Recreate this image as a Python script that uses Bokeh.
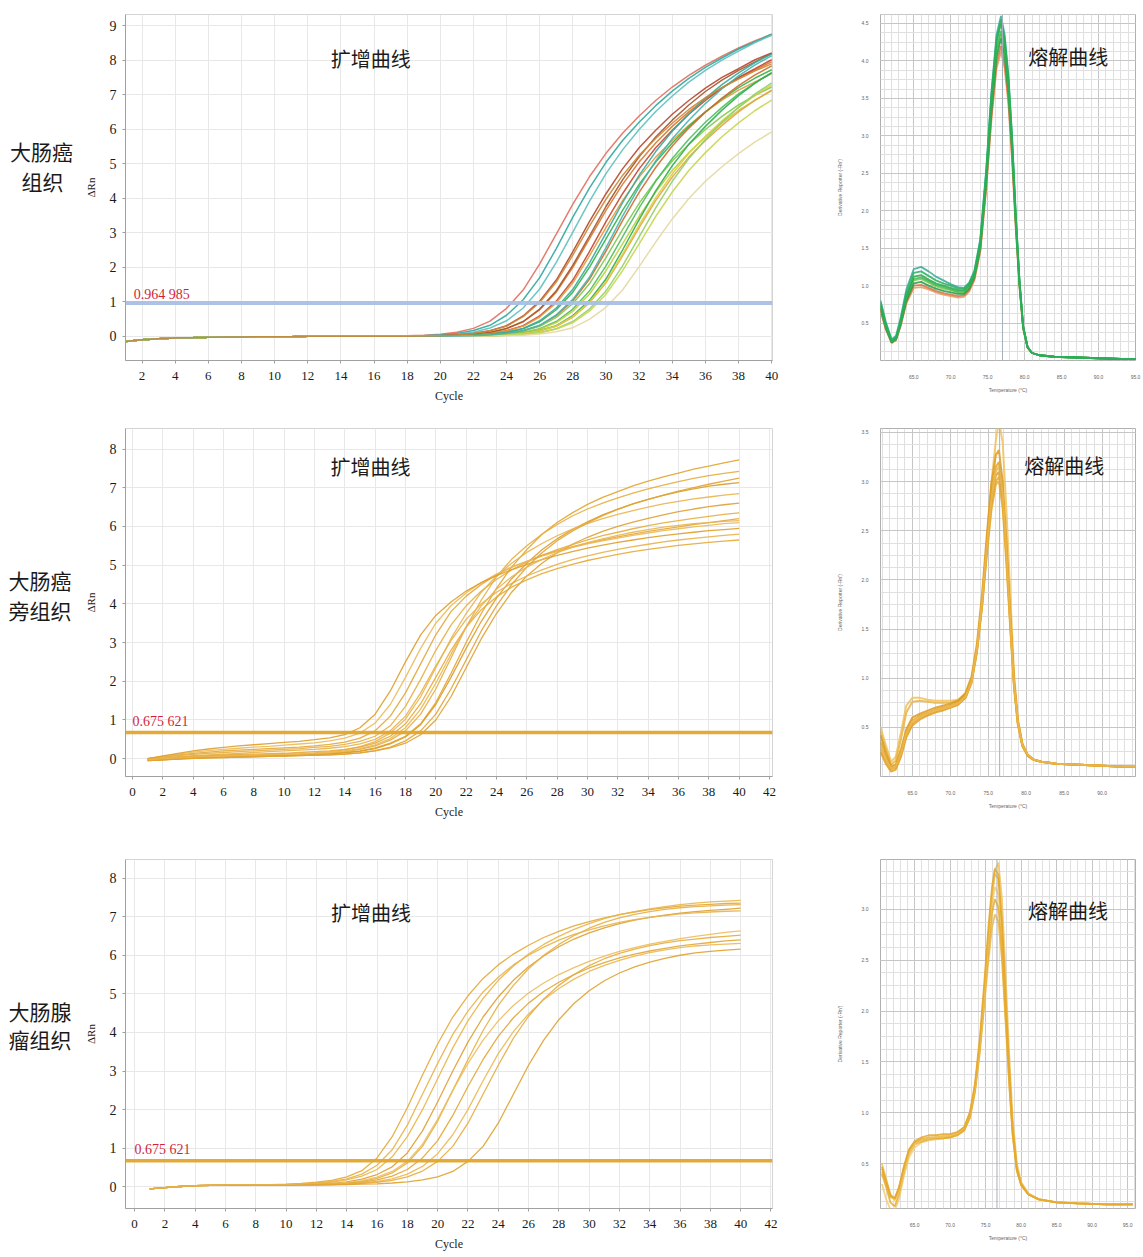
import numpy as np
from bokeh.plotting import figure
from bokeh.layouts import column, row
from bokeh.models import Range1d, FixedTicker, Span, Label, NumeralTickFormatter
from bokeh.embed import file_html
from bokeh.resources import INLINE

SERIF = "Liberation Serif"
CJK = "Noto Sans CJK SC"

# ------------------------------------------------------------------ data
cycles = list(range(1, 41))
amp1_x_ticks = [2, 4, 6, 8, 10, 12, 14, 16, 18, 20, 22, 24, 26, 28, 30, 32, 34, 36, 38, 40]
amp1_y_ticks = [0, 1, 2, 3, 4, 5, 6, 7, 8, 9]
amp23_x_ticks = [0, 2, 4, 6, 8, 10, 12, 14, 16, 18, 20, 22, 24, 26, 28, 30, 32, 34, 36, 38, 40, 42]
amp23_y_ticks = [0, 1, 2, 3, 4, 5, 6, 7, 8]

thresholds = [0.964985, 0.675621, 0.675621]
threshold_texts = ["0.964 985", "0.675 621", "0.675 621"]
row_labels = [["大肠癌", "组织"], ["大肠癌", "旁组织"], ["大肠腺", "瘤组织"]]
amp_title = "扩增曲线"
melt_title = "熔解曲线"

# row 1 amplification: shared baseline (cycles 1-17) + each curve (cycles 18-40)
amp1_baseline = [-0.15, -0.1, -0.07, -0.05, -0.04, -0.03, -0.02, -0.02, -0.01, -0.01, -0.01, 0, 0, 0, 0, 0, 0]
amp1_rise = [
    [0.02, 0.03, 0.06, 0.12, 0.23, 0.44, 0.81, 1.34, 2.1, 2.96, 3.83, 4.62, 5.3, 5.88, 6.38, 6.83, 7.22, 7.56, 7.85, 8.11, 8.35, 8.56, 8.75],
    [0.01, 0.02, 0.04, 0.08, 0.17, 0.32, 0.61, 1.06, 1.7, 2.54, 3.45, 4.29, 5.04, 5.67, 6.2, 6.68, 7.1, 7.47, 7.79, 8.06, 8.32, 8.53, 8.75],
    [0.0, 0.02, 0.03, 0.06, 0.12, 0.24, 0.45, 0.82, 1.37, 2.14, 3.02, 3.91, 4.71, 5.4, 5.99, 6.51, 6.96, 7.36, 7.7, 8.0, 8.26, 8.51, 8.72],
    [0.0, 0.01, 0.02, 0.04, 0.08, 0.16, 0.31, 0.59, 1.02, 1.63, 2.45, 3.32, 4.13, 4.85, 5.46, 5.97, 6.43, 6.83, 7.19, 7.5, 7.75, 8.01, 8.21],
    [0, 0, 0.02, 0.03, 0.06, 0.11, 0.22, 0.42, 0.77, 1.28, 2.0, 2.82, 3.65, 4.4, 5.05, 5.6, 6.08, 6.5, 6.88, 7.2, 7.48, 7.72, 7.95],
    [0, 0, 0.02, 0.03, 0.06, 0.11, 0.23, 0.43, 0.79, 1.32, 2.06, 2.9, 3.76, 4.53, 5.2, 5.77, 6.26, 6.7, 7.09, 7.42, 7.7, 7.95, 8.19],
    [0, 0, 0.01, 0.02, 0.04, 0.08, 0.16, 0.31, 0.59, 1.02, 1.63, 2.45, 3.32, 4.13, 4.85, 5.46, 5.97, 6.43, 6.83, 7.19, 7.5, 7.75, 8.01],
    [0, 0, 0.01, 0.02, 0.04, 0.08, 0.16, 0.29, 0.56, 0.97, 1.55, 2.33, 3.15, 3.93, 4.61, 5.19, 5.67, 6.11, 6.5, 6.84, 7.13, 7.37, 7.61],
    [0, 0, 0, 0.02, 0.03, 0.06, 0.11, 0.22, 0.42, 0.77, 1.28, 2.0, 2.82, 3.65, 4.4, 5.05, 5.6, 6.08, 6.5, 6.88, 7.2, 7.48, 7.72],
    [0, 0, 0, 0.02, 0.03, 0.06, 0.12, 0.23, 0.45, 0.82, 1.36, 2.12, 2.99, 3.87, 4.66, 5.35, 5.94, 6.44, 6.89, 7.29, 7.63, 7.93, 8.18],
    [0, 0, 0, 0.01, 0.02, 0.04, 0.08, 0.16, 0.31, 0.6, 1.03, 1.65, 2.47, 3.35, 4.17, 4.89, 5.51, 6.03, 6.49, 6.9, 7.26, 7.57, 7.83],
    [0, 0, 0, 0.01, 0.02, 0.04, 0.08, 0.15, 0.29, 0.55, 0.95, 1.52, 2.28, 3.09, 3.85, 4.51, 5.08, 5.56, 5.99, 6.37, 6.7, 6.98, 7.22],
    [0, 0, 0, 0, 0.02, 0.03, 0.06, 0.11, 0.22, 0.43, 0.79, 1.31, 2.04, 2.88, 3.72, 4.49, 5.15, 5.71, 6.2, 6.63, 7.02, 7.34, 7.63],
    [0, 0, 0, 0, 0.01, 0.03, 0.06, 0.1, 0.21, 0.4, 0.73, 1.22, 1.9, 2.68, 3.47, 4.18, 4.8, 5.32, 5.78, 6.18, 6.54, 6.84, 7.11],
    [0, 0, 0, 0, 0.01, 0.02, 0.04, 0.08, 0.17, 0.31, 0.6, 1.04, 1.66, 2.5, 3.38, 4.21, 4.94, 5.56, 6.08, 6.55, 6.97, 7.33, 7.64],
    [0, 0, 0, 0, 0.01, 0.02, 0.04, 0.08, 0.16, 0.29, 0.56, 0.97, 1.55, 2.33, 3.15, 3.93, 4.61, 5.19, 5.67, 6.11, 6.5, 6.84, 7.13],
    [0, 0, 0, 0, 0.01, 0.02, 0.04, 0.08, 0.16, 0.3, 0.57, 0.99, 1.58, 2.38, 3.22, 4.01, 4.7, 5.3, 5.79, 6.24, 6.63, 6.98, 7.28],
    [0, 0, 0, 0, 0, 0.02, 0.03, 0.06, 0.11, 0.22, 0.43, 0.79, 1.31, 2.04, 2.88, 3.72, 4.49, 5.15, 5.71, 6.2, 6.63, 7.02, 7.34],
    [0, 0, 0, 0, 0, 0.01, 0.03, 0.06, 0.1, 0.21, 0.4, 0.73, 1.22, 1.9, 2.68, 3.47, 4.18, 4.8, 5.32, 5.78, 6.18, 6.54, 6.84],
    [0, 0, 0, 0, 0, 0.01, 0.02, 0.03, 0.07, 0.13, 0.25, 0.49, 0.84, 1.34, 2.02, 2.73, 3.4, 3.99, 4.49, 4.91, 5.29, 5.63, 5.92],
    [0, 0, 0, 0.01, 0.02, 0.04, 0.09, 0.17, 0.32, 0.62, 1.07, 1.71, 2.57, 3.48, 4.33, 5.08, 5.72, 6.26, 6.74, 7.17, 7.54, 7.86, 8.13],
    [0, 0.01, 0.02, 0.04, 0.08, 0.16, 0.29, 0.57, 0.98, 1.57, 2.35, 3.19, 3.97, 4.66, 5.24, 5.73, 6.17, 6.57, 6.91, 7.2, 7.45, 7.69, 7.89],
]
amp1_colors = ["#e0705f", "#2ea89e", "#5cc0bd", "#b6472b", "#d9782f", "#a4532c", "#c4452f", "#e39a3b",
               "#35b24a", "#3aa89c", "#cf6a2a", "#7ec850", "#4cbc5a", "#b7d23d", "#2fae4e", "#e8a040",
               "#d9cf3e", "#8fd06a", "#c7d64c", "#e6d7a0", "#45b5ad", "#c98a36"]

amp2_curves = [
    [-0.05, -0.03, 0.0, 0.02, 0.04, 0.05, 0.06, 0.07, 0.08, 0.09, 0.1, 0.11, 0.13, 0.16, 0.2, 0.28, 0.4, 0.58, 0.9, 1.45, 2.2, 3.0, 3.75, 4.4, 4.95, 5.4, 5.8, 6.1, 6.35, 6.57, 6.75, 6.9, 7.05, 7.17, 7.28, 7.38, 7.48, 7.56, 7.64, 7.72],
    [-0.04, -0.02, 0.0, 0.02, 0.04, 0.05, 0.06, 0.07, 0.08, 0.09, 0.1, 0.12, 0.14, 0.18, 0.24, 0.33, 0.48, 0.72, 1.15, 1.8, 2.6, 3.4, 4.1, 4.7, 5.15, 5.5, 5.8, 6.05, 6.27, 6.45, 6.6, 6.74, 6.86, 6.97, 7.07, 7.16, 7.24, 7.31, 7.37, 7.42],
    [-0.04, -0.02, 0.0, 0.02, 0.03, 0.04, 0.05, 0.06, 0.07, 0.08, 0.09, 0.1, 0.12, 0.15, 0.19, 0.26, 0.38, 0.56, 0.88, 1.4, 2.1, 2.85, 3.55, 4.15, 4.65, 5.05, 5.4, 5.68, 5.92, 6.12, 6.3, 6.45, 6.58, 6.7, 6.8, 6.89, 6.97, 7.04, 7.09, 7.13],
    [-0.03, 0.0, 0.03, 0.05, 0.07, 0.08, 0.09, 0.1, 0.11, 0.12, 0.13, 0.15, 0.18, 0.23, 0.31, 0.44, 0.66, 1.02, 1.6, 2.35, 3.1, 3.75, 4.3, 4.72, 5.05, 5.33, 5.56, 5.76, 5.93, 6.07, 6.2, 6.31, 6.41, 6.5, 6.58, 6.65, 6.71, 6.76, 6.81, 6.85],
    [-0.05, -0.03, -0.01, 0.01, 0.02, 0.03, 0.04, 0.05, 0.06, 0.07, 0.08, 0.09, 0.1, 0.12, 0.15, 0.2, 0.28, 0.4, 0.62, 1.0, 1.6, 2.35, 3.1, 3.75, 4.3, 4.72, 5.05, 5.32, 5.54, 5.72, 5.87, 6.0, 6.11, 6.21, 6.3, 6.38, 6.45, 6.51, 6.56, 6.6],
    [0.0, 0.04, 0.08, 0.11, 0.14, 0.16, 0.18, 0.2, 0.22, 0.24, 0.26, 0.29, 0.32, 0.37, 0.45, 0.58, 0.85, 1.35, 2.05, 2.8, 3.45, 3.95, 4.33, 4.63, 4.88, 5.08, 5.25, 5.4, 5.53, 5.65, 5.76, 5.85, 5.94, 6.02, 6.09, 6.15, 6.21, 6.26, 6.31, 6.35],
    [0.0, 0.05, 0.1, 0.14, 0.17, 0.2, 0.22, 0.24, 0.26, 0.28, 0.3, 0.33, 0.37, 0.43, 0.53, 0.72, 1.1, 1.7, 2.45, 3.2, 3.8, 4.2, 4.5, 4.75, 4.95, 5.1, 5.25, 5.37, 5.48, 5.57, 5.65, 5.73, 5.8, 5.87, 5.93, 5.99, 6.05, 6.1, 6.15, 6.2],
    [0.0, 0.06, 0.12, 0.17, 0.21, 0.24, 0.27, 0.3, 0.32, 0.35, 0.38, 0.41, 0.46, 0.53, 0.66, 0.92, 1.4, 2.1, 2.85, 3.5, 3.95, 4.28, 4.55, 4.77, 4.95, 5.1, 5.23, 5.35, 5.46, 5.55, 5.63, 5.7, 5.77, 5.83, 5.89, 5.94, 5.99, 6.03, 6.07, 6.1],
    [0.0, 0.07, 0.14, 0.2, 0.25, 0.29, 0.33, 0.36, 0.39, 0.42, 0.45, 0.49, 0.54, 0.62, 0.8, 1.15, 1.75, 2.5, 3.2, 3.7, 4.05, 4.33, 4.55, 4.73, 4.88, 5.02, 5.14, 5.25, 5.35, 5.44, 5.52, 5.59, 5.65, 5.71, 5.76, 5.81, 5.85, 5.89, 5.92, 5.95],
    [-0.02, 0.02, 0.05, 0.08, 0.1, 0.12, 0.14, 0.16, 0.18, 0.2, 0.22, 0.24, 0.27, 0.31, 0.38, 0.5, 0.72, 1.1, 1.7, 2.4, 3.05, 3.6, 4.0, 4.3, 4.53, 4.72, 4.88, 5.02, 5.14, 5.24, 5.33, 5.41, 5.48, 5.54, 5.6, 5.65, 5.69, 5.73, 5.77, 5.8],
    [-0.02, 0.01, 0.04, 0.06, 0.08, 0.1, 0.11, 0.12, 0.13, 0.14, 0.16, 0.18, 0.2, 0.24, 0.3, 0.4, 0.58, 0.9, 1.42, 2.1, 2.8, 3.4, 3.85, 4.18, 4.43, 4.62, 4.78, 4.91, 5.02, 5.12, 5.2, 5.28, 5.35, 5.41, 5.46, 5.51, 5.55, 5.59, 5.62, 5.65],
    [-0.05, -0.03, -0.01, 0.01, 0.02, 0.03, 0.04, 0.05, 0.06, 0.07, 0.08, 0.09, 0.1, 0.12, 0.15, 0.21, 0.3, 0.46, 0.72, 1.15, 1.8, 2.55, 3.3, 3.95, 4.5, 4.95, 5.32, 5.63, 5.88, 6.09, 6.28, 6.44, 6.58, 6.7, 6.81, 6.91, 7.0, 7.09, 7.17, 7.25],
    [-0.03, 0.0, 0.02, 0.04, 0.06, 0.07, 0.08, 0.09, 0.1, 0.11, 0.12, 0.14, 0.16, 0.2, 0.26, 0.36, 0.52, 0.8, 1.28, 1.95, 2.7, 3.4, 3.95, 4.38, 4.7, 4.95, 5.15, 5.32, 5.46, 5.58, 5.68, 5.77, 5.85, 5.92, 5.98, 6.03, 6.07, 6.1, 6.13, 6.15],
]
amp2_colors = ["#e2a42e", "#e6ad3c", "#dc9c28", "#e9b44c", "#e0a030", "#e7ae40", "#e3a636",
               "#ebba58", "#de9f2c", "#e8b148", "#e5aa3a", "#e1a332", "#eab552"]

amp3_curves = [
    [-0.05, -0.02, 0.01, 0.03, 0.04, 0.05, 0.05, 0.05, 0.06, 0.07, 0.09, 0.12, 0.17, 0.26, 0.42, 0.75, 1.3, 2.05, 2.9, 3.7, 4.4, 4.95, 5.4, 5.75, 6.03, 6.26, 6.46, 6.62, 6.76, 6.87, 6.97, 7.05, 7.12, 7.18, 7.23, 7.27, 7.3, 7.32, 7.34, 7.35],
    [-0.05, -0.02, 0.01, 0.03, 0.04, 0.05, 0.05, 0.05, 0.05, 0.06, 0.07, 0.09, 0.12, 0.18, 0.28, 0.45, 0.78, 1.3, 2.0, 2.8, 3.6, 4.3, 4.88, 5.35, 5.72, 6.03, 6.28, 6.49, 6.67, 6.82, 6.95, 7.05, 7.13, 7.2, 7.26, 7.31, 7.35, 7.38, 7.4, 7.42],
    [-0.05, -0.02, 0.01, 0.03, 0.04, 0.04, 0.05, 0.05, 0.05, 0.05, 0.06, 0.07, 0.09, 0.13, 0.2, 0.32, 0.52, 0.88, 1.45, 2.2, 3.0, 3.75, 4.4, 4.92, 5.35, 5.7, 5.98, 6.22, 6.42, 6.58, 6.71, 6.82, 6.91, 6.98, 7.04, 7.09, 7.13, 7.16, 7.19, 7.22],
    [-0.05, -0.02, 0.01, 0.03, 0.04, 0.04, 0.04, 0.05, 0.05, 0.05, 0.05, 0.06, 0.07, 0.1, 0.14, 0.22, 0.36, 0.62, 1.05, 1.7, 2.5, 3.3, 4.05, 4.7, 5.22, 5.65, 6.0, 6.28, 6.51, 6.7, 6.85, 6.97, 7.06, 7.13, 7.19, 7.23, 7.26, 7.28, 7.3, 7.31],
    [-0.05, -0.02, 0.01, 0.03, 0.04, 0.04, 0.05, 0.05, 0.05, 0.05, 0.06, 0.07, 0.08, 0.11, 0.16, 0.25, 0.4, 0.66, 1.1, 1.75, 2.5, 3.2, 3.8, 4.3, 4.7, 5.02, 5.28, 5.5, 5.68, 5.84, 5.98, 6.1, 6.2, 6.29, 6.36, 6.43, 6.49, 6.54, 6.59, 6.63],
    [-0.05, -0.02, 0.01, 0.03, 0.04, 0.04, 0.04, 0.05, 0.05, 0.05, 0.05, 0.06, 0.07, 0.09, 0.12, 0.18, 0.28, 0.45, 0.75, 1.2, 1.85, 2.6, 3.3, 3.9, 4.38, 4.76, 5.06, 5.3, 5.5, 5.67, 5.81, 5.93, 6.03, 6.11, 6.18, 6.24, 6.29, 6.33, 6.37, 6.4],
    [-0.05, -0.02, 0.01, 0.03, 0.04, 0.04, 0.04, 0.04, 0.05, 0.05, 0.05, 0.05, 0.06, 0.08, 0.1, 0.14, 0.21, 0.33, 0.53, 0.86, 1.35, 2.0, 2.75, 3.45, 4.02, 4.48, 4.85, 5.14, 5.38, 5.58, 5.74, 5.87, 5.98, 6.07, 6.14, 6.2, 6.24, 6.27, 6.29, 6.31],
    [-0.05, -0.02, 0.01, 0.03, 0.04, 0.04, 0.04, 0.04, 0.04, 0.05, 0.05, 0.05, 0.06, 0.07, 0.09, 0.12, 0.17, 0.26, 0.41, 0.66, 1.05, 1.65, 2.4, 3.15, 3.85, 4.42, 4.87, 5.22, 5.5, 5.73, 5.91, 6.05, 6.16, 6.25, 6.32, 6.38, 6.42, 6.46, 6.49, 6.52],
    [-0.05, -0.02, 0.01, 0.03, 0.04, 0.04, 0.04, 0.04, 0.04, 0.04, 0.05, 0.05, 0.05, 0.06, 0.07, 0.08, 0.1, 0.13, 0.18, 0.26, 0.4, 0.66, 1.05, 1.65, 2.4, 3.15, 3.8, 4.33, 4.75, 5.08, 5.34, 5.54, 5.7, 5.82, 5.92, 6.0, 6.06, 6.1, 6.13, 6.16],
    [-0.05, -0.02, 0.01, 0.03, 0.04, 0.05, 0.05, 0.05, 0.05, 0.06, 0.08, 0.1, 0.14, 0.21, 0.33, 0.56, 0.96, 1.6, 2.4, 3.2, 3.95, 4.55, 5.05, 5.43, 5.75, 6.0, 6.21, 6.39, 6.54, 6.66, 6.76, 6.85, 6.92, 6.98, 7.03, 7.07, 7.1, 7.12, 7.14, 7.15],
]
amp3_colors = ["#e4a936", "#e9b548", "#dea032", "#e7b042", "#ecbd5c", "#e2a634", "#eab852",
               "#e6ac3e", "#dfa230", "#e8b24a"]

# melt curves (temperature, derivative)
melt1_temp = [60.5, 61.2, 62.0, 62.6, 63.2, 64.0, 65.0, 66.0, 67.0, 68.0, 69.0, 70.0, 71.0, 71.8, 72.5, 73.2, 74.0, 74.8,
              75.5, 76.2, 76.8, 77.3, 77.8, 78.3, 78.8, 79.3, 79.8, 80.4, 81.0, 82.0, 84.0, 87.0, 90.0, 93.0, 95.5]
melt1_curves = [
    [0.66, 0.42, 0.23, 0.27, 0.45, 0.76, 0.97, 0.98, 0.95, 0.91, 0.88, 0.86, 0.84, 0.85, 0.92, 1.07, 1.45, 2.28, 3.2, 3.9, 4.12, 3.9, 3.43, 2.68, 1.76, 0.98, 0.42, 0.17, 0.1, 0.07, 0.05, 0.04, 0.03, 0.02, 0.02],
    [0.68, 0.43, 0.24, 0.28, 0.46, 0.78, 1.0, 1.01, 0.97, 0.93, 0.9, 0.88, 0.86, 0.87, 0.94, 1.09, 1.47, 2.32, 3.26, 3.97, 4.2, 3.97, 3.49, 2.73, 1.79, 1.0, 0.43, 0.17, 0.1, 0.07, 0.05, 0.04, 0.03, 0.02, 0.02],
    [0.8, 0.52, 0.28, 0.33, 0.56, 0.95, 1.22, 1.25, 1.19, 1.12, 1.07, 1.02, 0.98, 0.97, 1.04, 1.2, 1.62, 2.55, 3.58, 4.35, 4.6, 4.35, 3.82, 3.0, 1.96, 1.08, 0.46, 0.18, 0.1, 0.07, 0.05, 0.04, 0.03, 0.02, 0.02],
    [0.74, 0.47, 0.26, 0.3, 0.49, 0.83, 1.07, 1.09, 1.04, 0.99, 0.96, 0.94, 0.91, 0.91, 0.98, 1.13, 1.52, 2.4, 3.38, 4.12, 4.36, 4.12, 3.62, 2.84, 1.86, 1.03, 0.44, 0.18, 0.1, 0.07, 0.05, 0.04, 0.03, 0.02, 0.02],
    [0.7, 0.44, 0.24, 0.28, 0.47, 0.8, 1.03, 1.05, 1.0, 0.96, 0.93, 0.91, 0.89, 0.89, 0.96, 1.11, 1.5, 2.36, 3.32, 4.05, 4.3, 4.07, 3.58, 2.8, 1.84, 1.02, 0.44, 0.17, 0.1, 0.07, 0.05, 0.04, 0.03, 0.02, 0.02],
    [0.72, 0.46, 0.25, 0.29, 0.49, 0.84, 1.09, 1.11, 1.06, 1.01, 0.98, 0.95, 0.92, 0.92, 0.99, 1.14, 1.54, 2.43, 3.42, 4.16, 4.4, 4.16, 3.66, 2.87, 1.88, 1.04, 0.45, 0.18, 0.1, 0.07, 0.05, 0.04, 0.03, 0.02, 0.02],
    [0.75, 0.48, 0.26, 0.3, 0.5, 0.86, 1.12, 1.14, 1.08, 1.03, 1.0, 0.97, 0.94, 0.94, 1.01, 1.16, 1.57, 2.48, 3.48, 4.25, 4.5, 4.25, 3.74, 2.93, 1.92, 1.06, 0.45, 0.18, 0.1, 0.07, 0.05, 0.04, 0.03, 0.02, 0.02],
    [0.78, 0.5, 0.27, 0.31, 0.53, 0.9, 1.17, 1.19, 1.13, 1.07, 1.03, 1.0, 0.96, 0.96, 1.03, 1.18, 1.6, 2.52, 3.54, 4.3, 4.55, 4.3, 3.78, 2.97, 1.94, 1.07, 0.46, 0.18, 0.1, 0.07, 0.05, 0.04, 0.03, 0.02, 0.02],
]
melt1_colors = ["#e59a5a", "#d9704a", "#36a89a", "#7cc44e", "#1f9b45", "#3dbb55", "#2aa84a", "#28b05c"]

melt2_temp = [60.8, 61.5, 62.2, 62.8, 63.5, 64.2, 65.0, 66.0, 67.0, 68.0, 69.0, 70.0, 71.0, 72.0, 72.8, 73.5, 74.2, 74.8,
              75.4, 76.0, 76.4, 76.9, 77.4, 77.9, 78.4, 78.9, 79.5, 80.2, 81.0, 82.0, 84.0, 87.0, 90.0, 93.0, 95.0]
melt2_curves = [
    [0.5, 0.32, 0.15, 0.2, 0.45, 0.72, 0.8, 0.8, 0.78, 0.77, 0.77, 0.77, 0.78, 0.84, 0.98, 1.28, 1.78, 2.38, 2.98, 3.42, 3.62, 3.4, 2.7, 1.85, 1.05, 0.58, 0.33, 0.22, 0.17, 0.15, 0.13, 0.12, 0.11, 0.1, 0.1],
    [0.45, 0.28, 0.12, 0.16, 0.38, 0.65, 0.76, 0.77, 0.76, 0.75, 0.75, 0.75, 0.77, 0.83, 0.97, 1.27, 1.74, 2.25, 2.7, 2.97, 3.0, 2.72, 2.15, 1.5, 0.9, 0.53, 0.31, 0.21, 0.17, 0.15, 0.13, 0.12, 0.11, 0.1, 0.1],
    [0.35, 0.2, 0.08, 0.1, 0.25, 0.45, 0.57, 0.62, 0.65, 0.68, 0.7, 0.72, 0.75, 0.82, 0.98, 1.3, 1.8, 2.35, 2.85, 3.15, 3.2, 2.9, 2.3, 1.6, 0.95, 0.55, 0.32, 0.22, 0.17, 0.15, 0.13, 0.12, 0.11, 0.1, 0.1],
    [0.28, 0.16, 0.07, 0.09, 0.22, 0.42, 0.54, 0.6, 0.63, 0.66, 0.68, 0.7, 0.73, 0.8, 0.95, 1.26, 1.74, 2.27, 2.73, 3.0, 3.05, 2.78, 2.2, 1.53, 0.91, 0.53, 0.31, 0.21, 0.17, 0.15, 0.13, 0.12, 0.11, 0.1, 0.1],
    [0.42, 0.24, 0.1, 0.12, 0.28, 0.48, 0.6, 0.64, 0.67, 0.7, 0.72, 0.74, 0.77, 0.85, 1.02, 1.35, 1.87, 2.45, 2.97, 3.27, 3.32, 3.0, 2.38, 1.66, 0.98, 0.57, 0.33, 0.22, 0.17, 0.15, 0.13, 0.12, 0.11, 0.1, 0.1],
    [0.25, 0.13, 0.05, 0.07, 0.2, 0.4, 0.52, 0.58, 0.62, 0.65, 0.67, 0.7, 0.73, 0.8, 0.96, 1.28, 1.76, 2.3, 2.78, 3.06, 3.1, 2.82, 2.24, 1.56, 0.93, 0.54, 0.31, 0.21, 0.17, 0.15, 0.13, 0.12, 0.11, 0.1, 0.1],
    [0.32, 0.18, 0.08, 0.1, 0.24, 0.44, 0.56, 0.61, 0.64, 0.67, 0.69, 0.71, 0.74, 0.81, 0.97, 1.29, 1.79, 2.33, 2.81, 3.1, 3.16, 2.88, 2.28, 1.59, 0.94, 0.55, 0.32, 0.22, 0.17, 0.15, 0.13, 0.12, 0.11, 0.1, 0.1],
]
melt2_colors = ["#f0c25a", "#e8b446", "#e5a526", "#e9ae35", "#dc9a1f", "#e39f24", "#eab84f"]

melt3_temp = [60.4, 61.0, 61.6, 62.2, 62.8, 63.5, 64.2, 65.0, 66.0, 67.0, 68.0, 69.0, 70.0, 71.0, 72.0, 72.8, 73.5, 74.2,
              74.8, 75.4, 75.9, 76.3, 76.8, 77.3, 77.8, 78.3, 78.8, 79.4, 80.0, 81.0, 82.5, 85.0, 88.0, 92.0, 95.7]
melt3_curves = [
    [0.3, 0.15, 0.05, 0.04, 0.15, 0.38, 0.56, 0.66, 0.71, 0.73, 0.74, 0.75, 0.76, 0.78, 0.83, 0.97, 1.24, 1.66, 2.14, 2.66, 3.04, 3.22, 3.15, 2.72, 2.05, 1.38, 0.82, 0.44, 0.3, 0.2, 0.15, 0.12, 0.11, 0.1, 0.1],
    [0.42, 0.3, 0.17, 0.16, 0.27, 0.47, 0.63, 0.71, 0.74, 0.75, 0.75, 0.75, 0.76, 0.78, 0.83, 0.95, 1.2, 1.6, 2.05, 2.5, 2.82, 2.95, 2.88, 2.5, 1.9, 1.3, 0.78, 0.43, 0.29, 0.2, 0.15, 0.12, 0.11, 0.1, 0.1],
    [0.4, 0.27, 0.12, 0.08, 0.2, 0.42, 0.6, 0.69, 0.72, 0.74, 0.75, 0.75, 0.76, 0.78, 0.83, 0.96, 1.22, 1.64, 2.1, 2.6, 2.96, 3.1, 3.02, 2.6, 1.96, 1.33, 0.79, 0.43, 0.29, 0.2, 0.15, 0.12, 0.11, 0.1, 0.1],
    [0.45, 0.32, 0.18, 0.15, 0.25, 0.45, 0.62, 0.7, 0.74, 0.76, 0.76, 0.77, 0.77, 0.79, 0.84, 0.98, 1.25, 1.7, 2.2, 2.75, 3.15, 3.35, 3.3, 2.85, 2.15, 1.45, 0.85, 0.45, 0.3, 0.2, 0.15, 0.12, 0.11, 0.1, 0.1],
    [0.5, 0.35, 0.2, 0.14, 0.22, 0.42, 0.6, 0.69, 0.73, 0.75, 0.76, 0.77, 0.78, 0.8, 0.86, 1.0, 1.26, 1.68, 2.15, 2.7, 3.12, 3.38, 3.46, 3.1, 2.38, 1.6, 0.95, 0.5, 0.32, 0.21, 0.15, 0.12, 0.11, 0.1, 0.1],
    [0.47, 0.33, 0.19, 0.16, 0.26, 0.47, 0.64, 0.72, 0.76, 0.78, 0.78, 0.79, 0.79, 0.81, 0.86, 1.01, 1.29, 1.75, 2.27, 2.83, 3.22, 3.4, 3.34, 2.88, 2.17, 1.46, 0.86, 0.46, 0.3, 0.2, 0.15, 0.12, 0.11, 0.1, 0.1],
]
melt3_colors = ["#f2cd76", "#e9b850", "#e6ab30", "#e8b23c", "#efc25e", "#e4a628"]

melt_tm = [77.0, 76.5, 76.6]
melt_tm_texts = ["Tm: 77.0", "Tm: 76.5", "Tm: 76.6"]
melt_x_ticks = [[65, 70, 75, 80, 85, 90, 95], [65, 70, 75, 80, 85, 90], [65, 70, 75, 80, 85, 90, 95]]
melt_y_ticks = [[0.5, 1.0, 1.5, 2.0, 2.5, 3.0, 3.5, 4.0, 4.5], [0.5, 1.0, 1.5, 2.0, 2.5, 3.0, 3.5],
                [0.5, 1.0, 1.5, 2.0, 2.5, 3.0]]

for c in amp1_rise:
    assert len(amp1_baseline) + len(c) == len(cycles)
for c in amp2_curves + amp3_curves:
    assert len(c) == len(cycles)
for t, cs in ((melt1_temp, melt1_curves), (melt2_temp, melt2_curves), (melt3_temp, melt3_curves)):
    for c in cs:
        assert len(c) == len(t)

# ------------------------------------------------------------------ layout sizes
LAB_W, AMP_W, MELT_W = 81, 719, 341
rows_h = [406, 426, 423]
amp_borders = [(14, 46), (22, 50), (25, 43)]
melt_borders = [(11, 41), (20, 56), (27, 47)]
amp_xr = [(1.0, 40.05), (-0.46, 42.2), (-0.6, 42.1)]
amp_yr = [(-0.7, 9.32), (-0.46, 8.53), (-0.56, 8.48)]
melt_xr = [(60.5, 95.0), (60.8, 94.4), (60.2, 96.1)]
melt_yr = [(0.0, 4.62), (0.0, 3.54), (0.06, 3.49)]
amp_title_pos = [(15.8, 8.06), (15.7, 7.56), (15.6, 7.1)]
thr_text_pos = [(1.5, 1.22), (0.0, 0.96), (0.0, 0.96)]
melt_title_pos = [(85.9, 4.06), (85.0, 3.16), (86.6, 2.99)]
tm_text_y = [-0.22, -0.17, -0.11]
lab_pos = [[(41, 160, "center"), (42, 195, "center")],
           [(8, 186, "left"), (8, 222, "left")],
           [(8, 184, "left"), (8, 218, "left")]]


def lab_fig(h, texts, pos):
    p = figure(width=LAB_W, height=h, x_range=Range1d(0, LAB_W), y_range=Range1d(h, 0),
               output_backend="svg", toolbar_location=None, min_border=0,
               x_axis_location=None, y_axis_location=None)
    p.outline_line_color = None
    p.grid.visible = False
    for t, (x, y, al) in zip(texts, pos):
        p.add_layout(Label(x=x, y=y, text=t, text_font=CJK, text_font_size="21px",
                           text_align=al, text_baseline="middle", text_color="#1a1a1a"))
    return p


def amp_fig(i, xticks, yticks, curves, colors, thr_color, thr_width, lw):
    top, bottom = amp_borders[i]
    p = figure(width=AMP_W, height=rows_h[i], x_range=Range1d(*amp_xr[i]), y_range=Range1d(*amp_yr[i]),
               output_backend="svg", toolbar_location=None,
               min_border_left=43, min_border_right=28, min_border_top=top, min_border_bottom=bottom)
    p.outline_line_color = "#d4d4d4"
    p.xaxis.ticker = FixedTicker(ticks=xticks)
    p.yaxis.ticker = FixedTicker(ticks=yticks)
    p.xgrid.grid_line_color = "#e8e8e8"
    p.ygrid.grid_line_color = "#e8e8e8"
    for ax in (p.xaxis, p.yaxis):
        ax.axis_line_color = "#a0a0a0"
        ax.major_tick_line_color = "#a0a0a0"
        ax.major_tick_out = 3
        ax.major_tick_in = 0
        ax.minor_tick_line_color = None
        ax.major_label_text_font = SERIF
        ax.major_label_text_color = "#1a1a1a"
        ax.axis_label_text_font = SERIF
        ax.axis_label_text_font_style = "normal"
        ax.axis_label_text_color = "#1a1a1a"
    p.xaxis.major_label_text_font_size = "13px"
    p.yaxis.major_label_text_font_size = "14px"
    p.xaxis.major_label_standoff = 8
    p.yaxis.major_label_standoff = 6
    p.xaxis.axis_label = "Cycle"
    p.xaxis.axis_label_text_font_size = "12px"
    p.xaxis.axis_label_standoff = 6
    p.yaxis.axis_label = "ΔRn"
    p.yaxis.axis_label_text_font_size = "11px"
    p.yaxis.axis_label_standoff = 10
    for ys, c in zip(curves, colors):
        p.line(cycles, ys, line_color=c, line_width=lw, line_alpha=0.9)
    p.add_layout(Span(location=thresholds[i], dimension="width", line_color=thr_color,
                      line_width=thr_width, line_alpha=0.95))
    tx, ty = thr_text_pos[i]
    p.add_layout(Label(x=tx, y=ty, text=threshold_texts[i], text_font=SERIF, text_font_size="14px",
                       text_color="#d11f3a", text_baseline="middle"))
    ax_, ay_ = amp_title_pos[i]
    p.add_layout(Label(x=ax_, y=ay_, text=amp_title, text_font=CJK, text_font_size="20px",
                       text_color="#1a1a1a", text_align="center", text_baseline="middle"))
    return p


def melt_fig(i, temps, curves, colors, lw):
    top, bottom = melt_borders[i]
    p = figure(width=MELT_W, height=rows_h[i], x_range=Range1d(*melt_xr[i]), y_range=Range1d(*melt_yr[i]),
               output_backend="svg", toolbar_location=None,
               min_border_left=80, min_border_right=6, min_border_top=top, min_border_bottom=bottom)
    p.outline_line_color = "#b0b0b0"
    p.xaxis.ticker = FixedTicker(ticks=melt_x_ticks[i], minor_ticks=list(np.arange(60, 97, 1.0)))
    p.yaxis.ticker = FixedTicker(ticks=melt_y_ticks[i], minor_ticks=list(np.arange(0, 4.7, 0.125)))
    p.xgrid.grid_line_color = "#c6c6c6"
    p.ygrid.grid_line_color = "#c6c6c6"
    p.xgrid.minor_grid_line_color = "#e0e0e0"
    p.ygrid.minor_grid_line_color = "#e0e0e0"
    for ax in (p.xaxis, p.yaxis):
        ax.axis_line_color = None
        ax.major_tick_line_color = None
        ax.minor_tick_line_color = None
        ax.major_label_text_font_size = "5px"
        ax.major_label_text_color = "#666666"
        ax.axis_label_text_font_size = "5px"
        ax.axis_label_text_color = "#666666"
        ax.axis_label_text_font_style = "normal"
        ax.formatter = NumeralTickFormatter(format="0.0")
    p.xaxis.major_label_standoff = 8
    p.yaxis.major_label_standoff = 6
    p.xaxis.axis_label = "Temperature (°C)"
    p.xaxis.axis_label_standoff = 5
    p.yaxis.axis_label = "Derivative Reporter (-Rn')"
    p.yaxis.axis_label_standoff = 16
    p.add_layout(Span(location=melt_tm[i], dimension="height", line_color="#a6b0bd", line_width=1))
    p.add_layout(Label(x=melt_tm[i], y=tm_text_y[i], text=melt_tm_texts[i], text_font_size="4px",
                       text_color="#777777", text_align="center", text_baseline="middle"))
    for ys, c in zip(curves, colors):
        p.line(temps, ys, line_color=c, line_width=lw, line_alpha=0.85)
    mx, my = melt_title_pos[i]
    p.add_layout(Label(x=mx, y=my, text=melt_title, text_font=CJK, text_font_size="20px",
                       text_color="#1a1a1a", text_align="center", text_baseline="middle"))
    return p


amp1_curves = [amp1_baseline + r for r in amp1_rise]
rows = []
rows.append(row(lab_fig(rows_h[0], row_labels[0], lab_pos[0]),
                amp_fig(0, amp1_x_ticks, amp1_y_ticks, amp1_curves, amp1_colors, "#a9bfe3", 4, 1.5),
                melt_fig(0, melt1_temp, melt1_curves, melt1_colors, 1.8)))
rows.append(row(lab_fig(rows_h[1], row_labels[1], lab_pos[1]),
                amp_fig(1, amp23_x_ticks, amp23_y_ticks, amp2_curves, amp2_colors, "#e2a52c", 3.5, 1.3),
                melt_fig(1, melt2_temp, melt2_curves, melt2_colors, 2.0)))
rows.append(row(lab_fig(rows_h[2], row_labels[2], lab_pos[2]),
                amp_fig(2, amp23_x_ticks, amp23_y_ticks, amp3_curves, amp3_colors, "#e2a52c", 3.5, 1.3),
                melt_fig(2, melt3_temp, melt3_curves, melt3_colors, 1.8)))

layout = column(*rows)
open("out.html", "w").write(file_html(layout, INLINE, "qPCR"))
